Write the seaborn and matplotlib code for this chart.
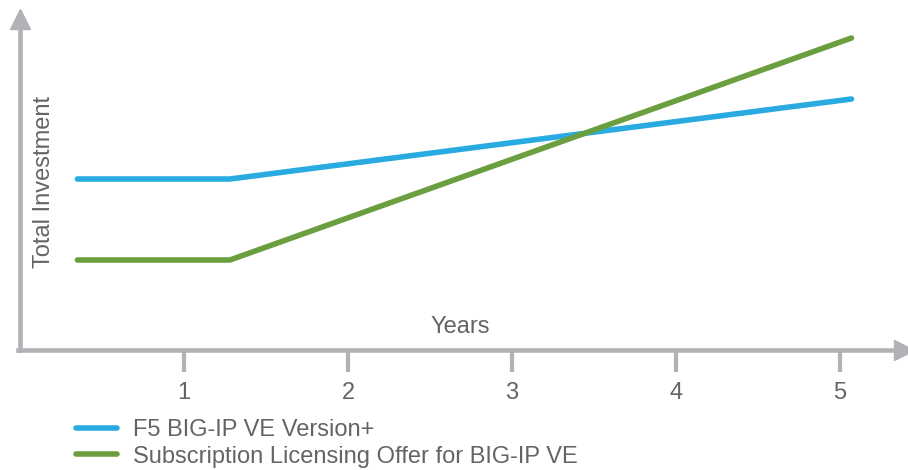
import pandas as pd
import matplotlib.pyplot as plt
import seaborn as sns

# data (x in years, y in arbitrary investment units)
years = [0.35, 1.28, 5.07]
ve_version_plus = [171, 171, 251]
subscription = [90, 90, 312]
series_names = ["F5 BIG-IP VE Version+", "Subscription Licensing Offer for BIG-IP VE"]
tick_years = [1, 2, 3, 4, 5]

df = pd.concat([
    pd.DataFrame({"Years": years, "Total Investment": ve_version_plus, "series": series_names[0]}),
    pd.DataFrame({"Years": years, "Total Investment": subscription, "series": series_names[1]}),
])

sns.set_style("white")
plt.rcParams["font.family"] = ["Liberation Sans", "DejaVu Sans"]

W, H = 908, 470
fig = plt.figure(figsize=(W / 100, H / 100), dpi=100)
# axes origin at pixel (20, 350), top at 9, right at 908
ax = fig.add_axes([20 / W, (H - 350) / H, (908 - 20) / W, (350 - 9) / H])

palette = {series_names[0]: "#29abe2", series_names[1]: "#6a9e3f"}
sns.lineplot(data=df, x="Years", y="Total Investment", hue="series", palette=palette,
             linewidth=4, ax=ax, solid_capstyle="round", legend=False)

ax.set_xlim(0, (908 - 20) / 164)
ax.set_ylim(0, 341)

axis_col = "#b1b2b5"
text_col = "#636466"
fs = 17
for side in ["top", "right"]:
    ax.spines[side].set_visible(False)
for side in ["left", "bottom"]:
    ax.spines[side].set_color(axis_col)
    ax.spines[side].set_linewidth(3.3)
ax.spines["bottom"].set_bounds(-0.012, 5.33)
ax.spines["left"].set_bounds(0, 325)

# arrow heads
ax.plot([1 - 4 / 888], [0], marker=">", markersize=14, color=axis_col, transform=ax.transAxes, clip_on=False)
ax.plot([0], [1 - 10 / 341], marker="^", markersize=14, color=axis_col, transform=ax.transAxes, clip_on=False)

ax.set_xticks(tick_years)
ax.set_xticklabels([str(t) for t in tick_years])
ax.set_yticks([])
ax.tick_params(axis="x", direction="out", length=16, width=3, color=axis_col,
               labelsize=fs, labelcolor=text_col, pad=7, bottom=True)

ax.set_xlabel("")
ax.set_ylabel("")
fig.text(460 / W, 1 - 327 / H, "Years", ha="center", va="center", fontsize=fs, color=text_col)
fig.text(44 / W, 1 - 182 / H, "Total Investment", ha="center", va="center", rotation=90,
         fontsize=fs, color=text_col)

handles = [plt.Line2D([], [], color=palette[n], linewidth=4, solid_capstyle="round") for n in series_names]
leg = fig.legend(handles, series_names, loc="upper left", bbox_to_anchor=(76 / W, 1 - 419 / H),
                 frameon=False, fontsize=fs, handlelength=1.75, handletextpad=0.68,
                 labelspacing=0.2, borderaxespad=0, borderpad=0)
for t in leg.get_texts():
    t.set_color(text_col)

fig.savefig("out.png", dpi=100)
